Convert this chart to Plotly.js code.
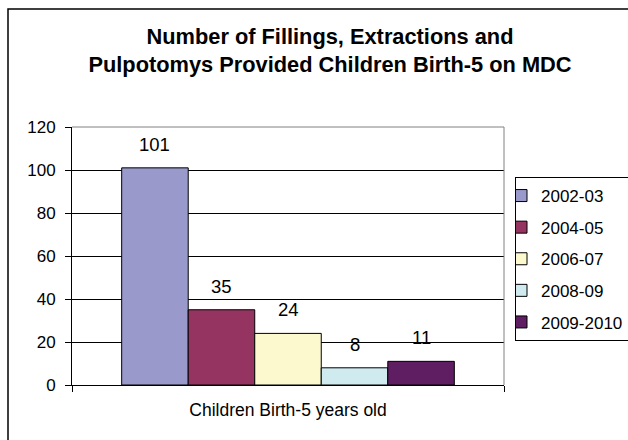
<!DOCTYPE html>
<html><head><meta charset="utf-8">
<script src="https://cdn.plot.ly/plotly-3.0.1.min.js"></script>
<style>html,body{margin:0;padding:0;background:#fff;}#chart{width:628px;height:440px;}</style>
</head><body><div id="chart"></div>
<script>
// ---- data ----
const categories = ['Children Birth-5 years old'];
const seriesNames = ['2002-03', '2004-05', '2006-07', '2008-09', '2009-2010'];
const values2002_03 = [101];
const values2004_05 = [35];
const values2006_07 = [24];
const values2008_09 = [8];
const values2009_2010 = [11];
const yTickValues = [0, 20, 40, 60, 80, 100, 120];
const chartTitle = 'Number of Fillings, Extractions and<br>Pulpotomys Provided Children Birth-5 on MDC';

// ---- styling ----
const seriesValues = [values2002_03, values2004_05, values2006_07, values2008_09, values2009_2010];
const seriesColors = ['#9999cc', '#953461', '#fcf9cf', '#cfebf0', '#5f1e61'];
const FONT = 'Liberation Sans, Arial, sans-serif';
const BARGAP = 0.23;
const nSeries = seriesNames.length;
const slot = (1 - BARGAP) / nSeries;

const traces = seriesNames.map((name, i) => ({
  type: 'bar',
  name: name,
  legendgroup: 'g' + i,
  x: categories,
  y: seriesValues[i],
  marker: {color: seriesColors[i], line: {color: '#000000', width: 1}},
  hoverinfo: 'none'
}));

const annotations = [];
seriesNames.forEach((name, i) => {
  seriesValues[i].forEach((v, k) => {
    annotations.push({
      xref: 'x', yref: 'y',
      x: k + (i - (nSeries - 1) / 2) * slot,
      y: v,
      text: String(v),
      showarrow: false,
      xanchor: 'center', yanchor: 'bottom',
      yshift: 11,
      font: {family: FONT, size: 18.5, color: '#000'}
    });
  });
});

const L = 72, R = 124, T = 127, B = 55, W = 628, H = 440;
const pw = W - L - R, ph = H - T - B;

const layout = {
  width: W, height: H,
  margin: {l: L, r: R, t: T, b: B, pad: 0, autoexpand: false},
  paper_bgcolor: '#ffffff',
  plot_bgcolor: '#ffffff',
  font: {family: FONT, color: '#000000'},
  title: {
    text: chartTitle,
    font: {family: FONT, size: 21.8, color: '#000', weight: 'bold'},
    xref: 'container', yref: 'container',
    x: 330 / W, xanchor: 'center',
    y: 1 - 44 / H, yanchor: 'top'
  },
  barmode: 'group',
  bargap: BARGAP,
  bargroupgap: 0,
  xaxis: {
    type: 'category',
    showline: true, linecolor: '#000', linewidth: 1,
    ticks: 'outside', tickson: 'boundaries', ticklen: 6, tickcolor: '#000', tickwidth: 1,
    ticklabelstandoff: 9,
    tickfont: {family: FONT, size: 17.5, color: '#000'},
    showgrid: false, zeroline: false, fixedrange: true
  },
  yaxis: {
    range: [0, 120],
    tickvals: yTickValues,
    showline: true, linecolor: '#000', linewidth: 1,
    ticks: 'outside', ticklen: 6, tickcolor: '#000', tickwidth: 1,
    ticklabelstandoff: 6,
    tickfont: {family: FONT, size: 17, color: '#000'},
    showgrid: true, gridcolor: '#000', gridwidth: 1,
    zeroline: false, fixedrange: true
  },
  legend: {
    x: (515 - L) / pw, xanchor: 'left',
    y: (H - B - 177) / ph, yanchor: 'top',
    bgcolor: '#ffffff', bordercolor: '#000', borderwidth: 1,
    font: {family: FONT, size: 17, color: '#000'},
    traceorder: 'grouped', tracegroupgap: 6.5,
    indentation: -15
  },
  annotations: annotations,
  shapes: [
    {type: 'line', xref: 'paper', yref: 'paper', x0: 0, x1: 1, y0: 1, y1: 1, line: {color: '#808080', width: 1}, layer: 'above'},
    {type: 'line', xref: 'paper', yref: 'paper', x0: 1, x1: 1, y0: 0, y1: 1, line: {color: '#808080', width: 1}, layer: 'above'},
    {type: 'rect', xref: 'paper', yref: 'paper',
     x0: (8 - L) / pw, x1: (W + 20 - L) / pw, y0: -(B + 20) / ph, y1: (H - B - 9) / ph,
     line: {color: '#000', width: 1.5}, fillcolor: 'rgba(0,0,0,0)', layer: 'below'}
  ],
  showlegend: true
};

Plotly.newPlot('chart', traces, layout, {displayModeBar: false, staticPlot: true});
</script>
</body></html>
